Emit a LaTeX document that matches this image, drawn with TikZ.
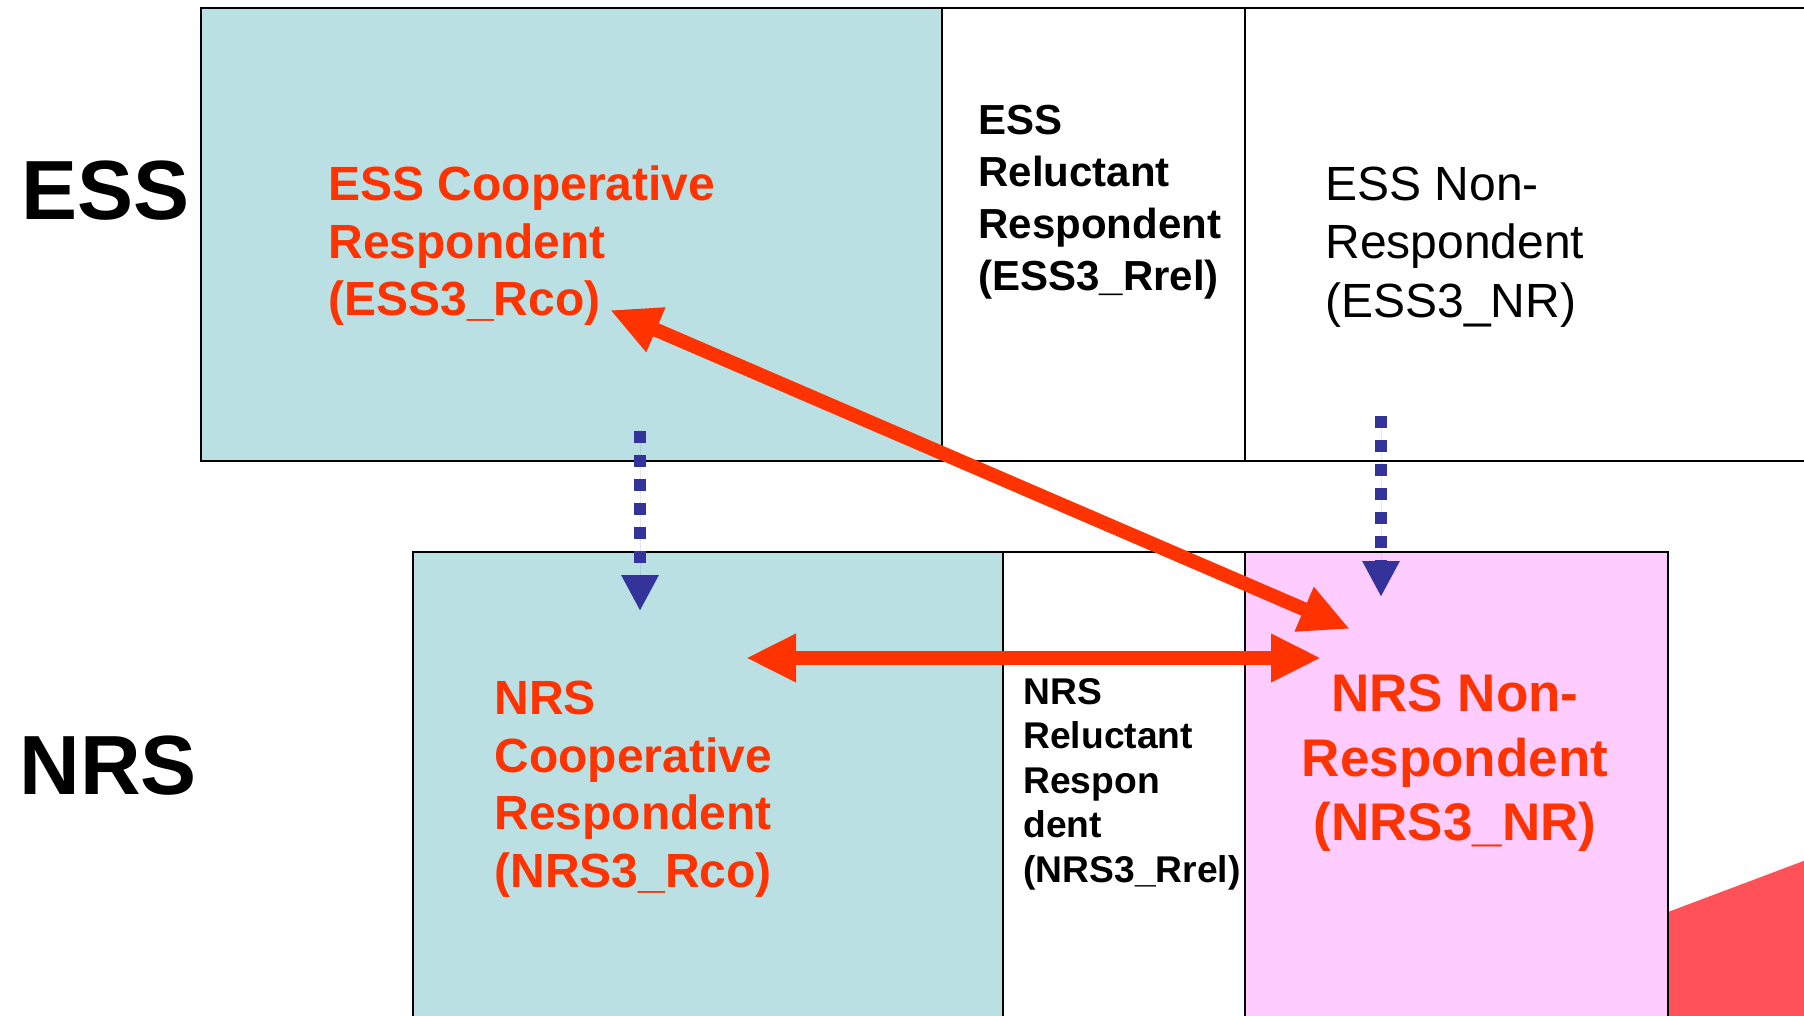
\documentclass[tikz,border=0pt]{standalone}
\usepackage{fontspec}
\setmainfont{Liberation Sans}
\usetikzlibrary{arrows.meta}
\definecolor{coop}{HTML}{BAE0E3}
\definecolor{nonresp}{HTML}{FFCCFF}
\definecolor{hot}{HTML}{FF3300}
\definecolor{indigo}{HTML}{333399}
\definecolor{corner}{HTML}{FF5258}
\tikzset{
 cell/.style={draw=black,line width=1pt,anchor=north west,inner sep=0pt,outer sep=0pt,minimum height=226.5pt},
 lowcell/.style={cell,minimum height=240pt},
 survey/.style={anchor=west,inner sep=0pt,font=\fontsize{42}{50}\selectfont\bfseries},
 txt/.style={anchor=west,inner sep=0pt,align=left},
 redtxt/.style={txt,text=hot,font=\fontsize{24}{28.75}\selectfont\bfseries},
 link/.style={{Triangle[length=25pt,width=22.5pt]}-{Triangle[length=25pt,width=22.5pt]},line width=7pt,draw=hot,fill=hot},
 flow/.style={-{Triangle[length=18pt,width=17.5pt]},line width=6pt,dash pattern=on 6pt off 6pt,draw=indigo,fill=indigo}}
\begin{document}
\begin{tikzpicture}[x=0.5pt,y=-0.5pt]
\useasboundingbox (0,0) rectangle (1804,1016);
\clip (0,0) rectangle (1804,1016);
\fill[corner] (1668,912) -- (1830,851) -- (1830,1030) -- (1668,1030) -- cycle;

\node[cell,fill=coop,minimum width=370.5pt] (essco) at (201,8) {};
\node[cell,fill=white,minimum width=151.5pt] (essrel) at (942,8) {};
\node[cell,fill=white,minimum width=290pt] (essnr) at (1245,8) {};
\node[lowcell,fill=coop,minimum width=295pt] (nrsco) at (413,552) {};
\node[lowcell,fill=white,minimum width=121pt] (nrsrel) at (1003,552) {};
\node[lowcell,fill=nonresp,minimum width=211.5pt] (nrsnr) at (1245,552) {};

\node[survey] (esslbl) at (21,191) {ESS};
\node[survey] (nrslbl) at (19,766) {NRS};

\node[redtxt] (esscotxt) at (328,246) {ESS Cooperative\\Respondent\\(ESS3\_Rco)};
\node[txt,font=\fontsize{21}{26}\selectfont\bfseries] (essreltxt) at (978,202) {ESS\\Reluctant\\Respondent\\(ESS3\_Rrel)};
\node[txt,font=\fontsize{24}{29.35}\selectfont] (essnrtxt) at (1325,247) {ESS Non-\\Respondent\\(ESS3\_NR)};
\node[redtxt] (nrscotxt) at (494,789) {NRS\\Cooperative\\Respondent\\(NRS3\_Rco)};
\node[txt,font=\fontsize{18.6}{22.25}\selectfont\bfseries] (nrsreltxt) at (1023,784) {NRS\\Reluctant\\Respon\\dent\\(NRS3\_Rrel)};
\node[redtxt,anchor=center,align=center,font=\fontsize{26.5}{32.25}\selectfont\bfseries] (nrsnrtxt) at (1455,763) {NRS Non-\\Respondent\\(NRS3\_NR)};

\coordinate (essco end) at (610,310);
\coordinate (nrsnr end) at (1350,629);
\coordinate (nrsco end) at (746,658);
\coordinate (nrsnr side) at (1321,658);
\coordinate (essco drop) at (640,431);
\coordinate (nrsco top) at (640,611);
\coordinate (essnr drop) at (1381,416);
\coordinate (nrsnr top) at (1381,597);

\draw[flow] (essco drop) -- (nrsco top);
\draw[flow] (essnr drop) -- (nrsnr top);
\draw[link] (essco end) -- (nrsnr end);
\draw[link] (nrsco end) -- (nrsnr side);
\end{tikzpicture}
\end{document}
